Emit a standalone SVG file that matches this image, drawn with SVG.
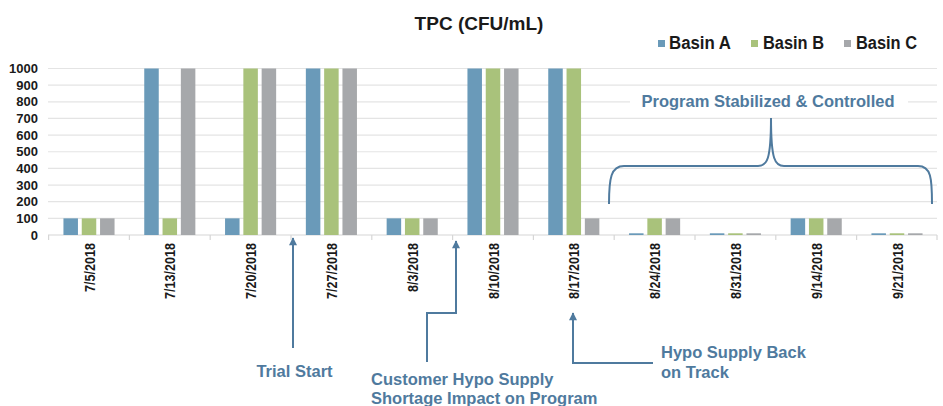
<svg xmlns="http://www.w3.org/2000/svg" width="943" height="406" viewBox="0 0 943 406">
<style>
text{font-family:"Liberation Sans",Arial,sans-serif}
.title{font-size:19px;font-weight:bold;fill:#1a1a1a}
.leg{font-size:18px;font-weight:bold;fill:#1a1a1a}
.ylab{font-size:13px;font-weight:bold;fill:#1a1a1a;text-anchor:end}
.xlab{font-size:14px;font-weight:bold;fill:#1a1a1a;text-anchor:end}
.grid{stroke:#e4e4e4;stroke-width:1.2}
.axis{stroke:#d6d6d6;stroke-width:1.2}
.a{fill:#6a9ab9}.b{fill:#a9c27b}.c{fill:#a6a8ab}
.note{font-size:16.5px;font-weight:bold;fill:#4f7a9e}
.conn{fill:none;stroke:#4f7a9e;stroke-width:2}
</style>
<defs>
<marker id="ah" viewBox="0 0 10 10" refX="9" refY="5" markerWidth="9" markerHeight="8" markerUnits="userSpaceOnUse" orient="auto"><path d="M0,0 L10,5 L0,10 z" fill="#4f7a9e"/></marker>
</defs>
<rect width="943" height="406" fill="#ffffff"/>
<g id="title"><text class="title" x="479" y="30" text-anchor="middle">TPC (CFU/mL)</text></g>
<g id="legend">
<rect class="a" x="658" y="40" width="7" height="7"/><text class="leg" x="669" y="49" textLength="62" lengthAdjust="spacingAndGlyphs">Basin A</text>
<rect class="b" x="751" y="40" width="7" height="7"/><text class="leg" x="763" y="49" textLength="61" lengthAdjust="spacingAndGlyphs">Basin B</text>
<rect class="c" x="844" y="40" width="7" height="7"/><text class="leg" x="856" y="49" textLength="61" lengthAdjust="spacingAndGlyphs">Basin C</text>
</g>
<g id="grid">
<line class="grid" x1="48" y1="68.5" x2="937" y2="68.5"/>
<line class="grid" x1="48" y1="85.15" x2="937" y2="85.15"/>
<line class="grid" x1="48" y1="101.8" x2="937" y2="101.8"/>
<line class="grid" x1="48" y1="118.45" x2="937" y2="118.45"/>
<line class="grid" x1="48" y1="135.1" x2="937" y2="135.1"/>
<line class="grid" x1="48" y1="151.75" x2="937" y2="151.75"/>
<line class="grid" x1="48" y1="168.4" x2="937" y2="168.4"/>
<line class="grid" x1="48" y1="185.05" x2="937" y2="185.05"/>
<line class="grid" x1="48" y1="201.7" x2="937" y2="201.7"/>
<line class="grid" x1="48" y1="218.35" x2="937" y2="218.35"/>
<line class="axis" x1="48" y1="235" x2="937" y2="235"/>
<path class="axis" d="M48.6,235v5M129.4,235v5M210.2,235v5M291,235v5M371.8,235v5M452.6,235v5M533.4,235v5M614.2,235v5M695,235v5M775.8,235v5M856.6,235v5M937,235v5"/>
</g>
<g id="yaxis">
<text class="ylab" x="38" y="73">1000</text>
<text class="ylab" x="38" y="89.6">900</text>
<text class="ylab" x="38" y="106.3">800</text>
<text class="ylab" x="38" y="122.9">700</text>
<text class="ylab" x="38" y="139.6">600</text>
<text class="ylab" x="38" y="156.2">500</text>
<text class="ylab" x="38" y="172.9">400</text>
<text class="ylab" x="38" y="189.5">300</text>
<text class="ylab" x="38" y="206.2">200</text>
<text class="ylab" x="38" y="222.8">100</text>
<text class="ylab" x="38" y="239.5">0</text>
</g>
<g id="cat-0705" transform="translate(89,0)">
<rect class="a" x="-25.55" y="218.35" width="14.5" height="16.65"/><rect class="b" x="-7.25" y="218.35" width="14.5" height="16.65"/><rect class="c" x="11.05" y="218.35" width="14.5" height="16.65"/>
<text class="xlab" transform="translate(5.5,243) rotate(-90)" textLength="49" lengthAdjust="spacingAndGlyphs">7/5/2018</text></g>
<g id="cat-0713" transform="translate(169.8,0)">
<rect class="a" x="-25.55" y="68.5" width="14.5" height="166.5"/><rect class="b" x="-7.25" y="218.35" width="14.5" height="16.65"/><rect class="c" x="11.05" y="68.5" width="14.5" height="166.5"/>
<text class="xlab" transform="translate(5.5,243) rotate(-90)" textLength="56" lengthAdjust="spacingAndGlyphs">7/13/2018</text></g>
<g id="cat-0720" transform="translate(250.6,0)">
<rect class="a" x="-25.55" y="218.35" width="14.5" height="16.65"/><rect class="b" x="-7.25" y="68.5" width="14.5" height="166.5"/><rect class="c" x="11.05" y="68.5" width="14.5" height="166.5"/>
<text class="xlab" transform="translate(5.5,243) rotate(-90)" textLength="56" lengthAdjust="spacingAndGlyphs">7/20/2018</text></g>
<g id="cat-0727" transform="translate(331.4,0)">
<rect class="a" x="-25.55" y="68.5" width="14.5" height="166.5"/><rect class="b" x="-7.25" y="68.5" width="14.5" height="166.5"/><rect class="c" x="11.05" y="68.5" width="14.5" height="166.5"/>
<text class="xlab" transform="translate(5.5,243) rotate(-90)" textLength="56" lengthAdjust="spacingAndGlyphs">7/27/2018</text></g>
<g id="cat-0803" transform="translate(412.2,0)">
<rect class="a" x="-25.55" y="218.35" width="14.5" height="16.65"/><rect class="b" x="-7.25" y="218.35" width="14.5" height="16.65"/><rect class="c" x="11.05" y="218.35" width="14.5" height="16.65"/>
<text class="xlab" transform="translate(5.5,243) rotate(-90)" textLength="49" lengthAdjust="spacingAndGlyphs">8/3/2018</text></g>
<g id="cat-0810" transform="translate(493,0)">
<rect class="a" x="-25.55" y="68.5" width="14.5" height="166.5"/><rect class="b" x="-7.25" y="68.5" width="14.5" height="166.5"/><rect class="c" x="11.05" y="68.5" width="14.5" height="166.5"/>
<text class="xlab" transform="translate(5.5,243) rotate(-90)" textLength="56" lengthAdjust="spacingAndGlyphs">8/10/2018</text></g>
<g id="cat-0817" transform="translate(573.8,0)">
<rect class="a" x="-25.55" y="68.5" width="14.5" height="166.5"/><rect class="b" x="-7.25" y="68.5" width="14.5" height="166.5"/><rect class="c" x="11.05" y="218.35" width="14.5" height="16.65"/>
<text class="xlab" transform="translate(5.5,243) rotate(-90)" textLength="56" lengthAdjust="spacingAndGlyphs">8/17/2018</text></g>
<g id="cat-0824" transform="translate(654.6,0)">
<rect class="a" x="-25.55" y="233.3" width="14.5" height="1.7"/><rect class="b" x="-7.25" y="218.35" width="14.5" height="16.65"/><rect class="c" x="11.05" y="218.35" width="14.5" height="16.65"/>
<text class="xlab" transform="translate(5.5,243) rotate(-90)" textLength="56" lengthAdjust="spacingAndGlyphs">8/24/2018</text></g>
<g id="cat-0831" transform="translate(735.4,0)">
<rect class="a" x="-25.55" y="233.3" width="14.5" height="1.7"/><rect class="b" x="-7.25" y="233.3" width="14.5" height="1.7"/><rect class="c" x="11.05" y="233.3" width="14.5" height="1.7"/>
<text class="xlab" transform="translate(5.5,243) rotate(-90)" textLength="56" lengthAdjust="spacingAndGlyphs">8/31/2018</text></g>
<g id="cat-0914" transform="translate(816.2,0)">
<rect class="a" x="-25.55" y="218.35" width="14.5" height="16.65"/><rect class="b" x="-7.25" y="218.35" width="14.5" height="16.65"/><rect class="c" x="11.05" y="218.35" width="14.5" height="16.65"/>
<text class="xlab" transform="translate(5.5,243) rotate(-90)" textLength="56" lengthAdjust="spacingAndGlyphs">9/14/2018</text></g>
<g id="cat-0921" transform="translate(897,0)">
<rect class="a" x="-25.55" y="233.3" width="14.5" height="1.7"/><rect class="b" x="-7.25" y="233.3" width="14.5" height="1.7"/><rect class="c" x="11.05" y="233.3" width="14.5" height="1.7"/>
<text class="xlab" transform="translate(5.5,243) rotate(-90)" textLength="56" lengthAdjust="spacingAndGlyphs">9/21/2018</text></g>
<g id="note-stabilized">
<rect x="630" y="91" width="278" height="20" fill="#ffffff"/>
<text class="note" x="768" y="107" text-anchor="middle">Program Stabilized &amp; Controlled</text>
</g>
<g id="note-trial"><text class="note" x="294.5" y="377" text-anchor="middle">Trial Start</text></g>
<g id="note-shortage">
<text class="note" x="371" y="385">Customer Hypo Supply</text>
<text class="note" x="371" y="404">Shortage Impact on Program</text>
</g>
<g id="note-back">
<text class="note" x="661" y="358">Hypo Supply Back</text>
<text class="note" x="661" y="378">on Track</text>
</g>
<g id="connectors">
<path class="conn" d="M609,204 C609,178 611,166 624,166 L758,166 C767,166 771,160 771,118 C771,160 775,166 784,166 L918,166 C931,166 932,178 932,204"/>
<path class="conn" d="M293,348 L293,238" marker-end="url(#ah)"/>
<path class="conn" d="M427,362 L427,313 L456,313 L456,241" marker-end="url(#ah)"/>
<path class="conn" d="M653,363 L573,363 L573,313" marker-end="url(#ah)"/>
</g>
</svg>
